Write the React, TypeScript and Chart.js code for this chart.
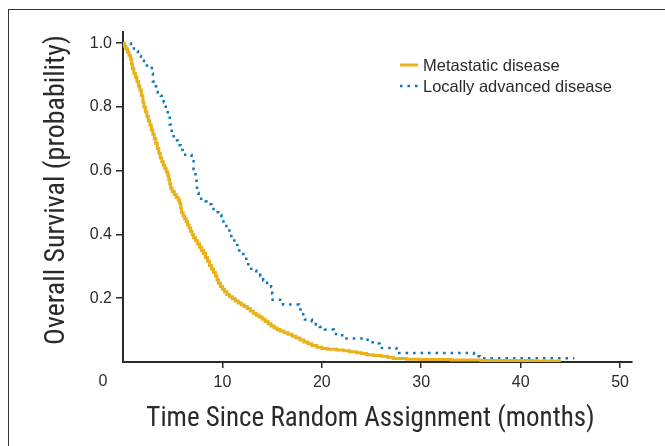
import React, { useEffect, useRef } from 'react';
import { Chart, registerables } from 'chart.js';

Chart.register(...registerables);

// Kaplan–Meier estimates (months, survival probability)
const metTimes = [0, 0.15, 0.3, 0.45, 0.6, 0.75, 0.85, 0.95, 1.1, 1.25, 1.4, 1.55, 1.7, 1.85, 2.0, 2.1, 2.25, 2.4, 2.55, 2.7, 2.85, 3.0, 3.15, 3.3, 3.45, 3.6, 3.75, 3.9, 4.05, 4.2, 4.35, 4.5, 4.6, 4.7, 4.8, 4.95, 5.15, 5.35, 5.55, 5.7, 5.8, 5.9, 6.05, 6.2, 6.35, 6.5, 6.65, 6.8, 6.95, 7.1, 7.3, 7.5, 7.7, 7.9, 8.1, 8.3, 8.5, 8.7, 8.9, 9.1, 9.3, 9.45, 9.6, 9.8, 10.0, 10.2, 10.45, 10.7, 11.0, 11.3, 11.6, 11.9, 12.2, 12.5, 12.8, 13.1, 13.4, 13.7, 14.0, 14.3, 14.6, 14.9, 15.2, 15.5, 15.8, 16.2, 16.6, 17.0, 17.4, 17.8, 18.2, 18.6, 19.0, 19.5, 20.0, 20.6, 21.5, 22.2, 22.8, 23.5, 24.0, 24.5, 25.2, 26.0, 26.6, 27.2, 28.5, 29.8, 33.0, 36.0, 41.2, 43.9];
const metSurv = [1.0, 0.99, 0.982, 0.972, 0.962, 0.95, 0.935, 0.92, 0.905, 0.893, 0.88, 0.866, 0.852, 0.835, 0.815, 0.8, 0.785, 0.77, 0.757, 0.743, 0.728, 0.714, 0.7, 0.685, 0.67, 0.655, 0.64, 0.628, 0.617, 0.607, 0.597, 0.586, 0.572, 0.558, 0.545, 0.535, 0.525, 0.516, 0.508, 0.498, 0.483, 0.468, 0.458, 0.449, 0.44, 0.43, 0.42, 0.41, 0.4, 0.39, 0.38, 0.37, 0.36, 0.35, 0.34, 0.328, 0.316, 0.303, 0.292, 0.281, 0.27, 0.258, 0.247, 0.237, 0.228, 0.22, 0.212, 0.205, 0.198, 0.191, 0.185, 0.179, 0.174, 0.168, 0.16, 0.153, 0.147, 0.141, 0.134, 0.127, 0.12, 0.113, 0.107, 0.102, 0.097, 0.092, 0.087, 0.081, 0.075, 0.069, 0.063, 0.057, 0.052, 0.046, 0.042, 0.04, 0.038, 0.035, 0.032, 0.029, 0.027, 0.023, 0.02, 0.018, 0.015, 0.011, 0.009, 0.008, 0.006, 0.005, 0.003, 0.0];

const locTimes = [0, 0.8, 1.1, 1.5, 1.8, 2.1, 2.9, 3.0, 3.3, 3.5, 3.8, 4.1, 4.3, 4.5, 4.7, 4.9, 5.1, 5.5, 5.8, 6.0, 6.9, 7.1, 7.3, 7.4, 7.45, 7.6, 8.0, 8.4, 8.9, 9.1, 9.6, 9.9, 10.1, 10.4, 10.7, 10.9, 11.2, 11.5, 11.7, 12.1, 12.4, 12.6, 12.9, 13.4, 13.8, 14.1, 14.5, 14.9, 15.0, 15.05, 15.8, 16.1, 17.7, 18.0, 18.3, 19.0, 19.4, 19.8, 20.3, 21.2, 21.9, 22.3, 24.6, 25.4, 25.8, 27.5, 35.3, 35.9, 45.4];
const locSurv = [1.0, 0.99, 0.975, 0.96, 0.945, 0.93, 0.905, 0.88, 0.865, 0.845, 0.835, 0.815, 0.795, 0.775, 0.745, 0.72, 0.695, 0.68, 0.665, 0.65, 0.63, 0.605, 0.58, 0.555, 0.53, 0.512, 0.503, 0.495, 0.486, 0.47, 0.461, 0.446, 0.432, 0.418, 0.402, 0.39, 0.375, 0.36, 0.345, 0.331, 0.315, 0.3, 0.287, 0.279, 0.27, 0.256, 0.248, 0.235, 0.215, 0.195, 0.19, 0.18, 0.165, 0.15, 0.133, 0.128, 0.118, 0.11, 0.102, 0.088, 0.084, 0.074, 0.062, 0.058, 0.044, 0.028, 0.018, 0.012, 0.012];

const seriesLabels = ['Metastatic disease', 'Locally advanced disease'];
const xTicks = [10, 20, 30, 40, 50];
const yTicks = [0.2, 0.4, 0.6, 0.8, 1.0];
const originLabel = '0';
const xTitle = 'Time Since Random Assignment (months)';
const yTitle = 'Overall Survival (probability)';

const YELLOW = '#E9B21C';
const BLUE = '#0A76BC';
const INK = '#2b2b2b';
const TICK_FONT = { family: '"Liberation Sans", Arial, sans-serif', size: 16 };
const TITLE_FAMILY = '"Liberation Sans Narrow", "Roboto Condensed", "DejaVu Sans Condensed", Roboto, sans-serif';

const extras = {
  id: 'extras',
  afterDraw(chart: any) {
    const { ctx, chartArea, scales } = chart;
    ctx.save();
    ctx.fillStyle = INK;
    // origin label
    ctx.font = `${TICK_FONT.size}px ${TICK_FONT.family}`;
    ctx.textAlign = 'center';
    ctx.textBaseline = 'middle';
    ctx.fillText(originLabel, scales.x.getPixelForValue(0) - 20, chartArea.bottom + 20);
    // axis titles
    ctx.font = `27px ${TITLE_FAMILY}`;
    ctx.fillText(xTitle, (chartArea.left + chartArea.right) / 2 - 7, chartArea.bottom + 57);
    ctx.save();
    ctx.translate(57, (chartArea.top + chartArea.bottom) / 2 - 7);
    ctx.rotate(-Math.PI / 2);
    ctx.font = `28px ${TITLE_FAMILY}`;
    ctx.fillText(yTitle, 0, 0);
    ctx.restore();
    // legend
    const lx = chartArea.left + 277;
    const rows = [chartArea.top + 33, chartArea.top + 54];
    const colors = [YELLOW, BLUE];
    rows.forEach((ry, i) => {
      ctx.beginPath();
      ctx.strokeStyle = colors[i];
      ctx.lineWidth = i === 0 ? 3 : 2.5;
      ctx.setLineDash(i === 0 ? [] : [2.5, 5]);
      ctx.moveTo(lx, ry);
      ctx.lineTo(lx + 18, ry);
      ctx.stroke();
      ctx.setLineDash([]);
      ctx.fillStyle = INK;
      ctx.textAlign = 'left';
      ctx.font = `16.5px ${TICK_FONT.family}`;
      ctx.fillText(seriesLabels[i], lx + 23, ry + 1);
    });
    ctx.restore();
  },
};

export default function App() {
  const ref = useRef<HTMLCanvasElement | null>(null);
  useEffect(() => {
    document.body.style.margin = '0';
    if (!ref.current) return;
    const chart = new Chart(ref.current, {
      type: 'line',
      data: {
        datasets: [
          {
            label: seriesLabels[0],
            data: metTimes.map((t, i) => ({ x: t, y: metSurv[i] })),
            borderColor: YELLOW,
            borderWidth: 3,
            stepped: true,
            pointRadius: 0,
            fill: false,
          },
          {
            label: seriesLabels[1],
            data: locTimes.map((t, i) => ({ x: t, y: locSurv[i] })),
            borderColor: BLUE,
            borderWidth: 2.5,
            borderDash: [2.5, 5],
            stepped: true,
            pointRadius: 0,
            fill: false,
          },
        ],
      },
      options: {
        responsive: false,
        animation: false,
        layout: { padding: { top: 32, right: 33, left: 0, bottom: 0 } },
        plugins: { legend: { display: false }, tooltip: { enabled: false } },
        scales: {
          x: {
            type: 'linear',
            min: 0,
            max: 51.2,
            afterBuildTicks: (s: any) => { s.ticks = xTicks.map((v) => ({ value: v })); },
            afterFit: (s: any) => { s.height = 84; },
            grid: { drawOnChartArea: false, drawTicks: true, tickLength: 6, color: INK, lineWidth: 1.5 },
            border: { display: true, color: INK, width: 2 },
            ticks: { font: TICK_FONT, color: INK, padding: 5, maxRotation: 0 },
            title: { display: false, text: xTitle },
          },
          y: {
            type: 'linear',
            min: 0,
            max: 1.035,
            afterBuildTicks: (s: any) => { s.ticks = yTicks.map((v) => ({ value: v })); },
            afterFit: (s: any) => { s.width = 123; },
            grid: { drawOnChartArea: false, drawTicks: true, tickLength: 7, color: INK, lineWidth: 1.5 },
            border: { display: true, color: INK, width: 2 },
            ticks: { font: TICK_FONT, color: INK, padding: 4, callback: (v: any) => Number(v).toFixed(1) },
            title: { display: false, text: yTitle },
          },
        },
      },
      plugins: [extras],
    });
    return () => chart.destroy();
  }, []);
  return (
    <div style={{ position: 'relative', width: 665, height: 446 }}>
      <div style={{ position: 'absolute', left: 8, top: 9, right: 0, bottom: 0, borderLeft: '1px solid #333', borderTop: '1.5px solid #333' }} />
      <canvas ref={ref} width={665} height={446} style={{ position: 'absolute', left: 0, top: 0 }} />
    </div>
  );
}
